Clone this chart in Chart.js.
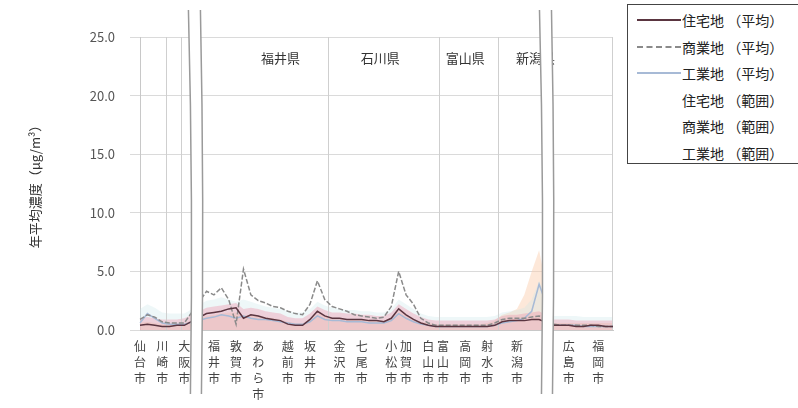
<!DOCTYPE html>
<html><head><meta charset="utf-8">
<script src="https://cdn.jsdelivr.net/npm/chart.js@4.4.0/dist/chart.umd.min.js"></script>
<style>
html,body{margin:0;padding:0;background:#fff;overflow:hidden}
#wrap{position:relative;width:798px;height:408px}
#legend{position:absolute;left:627px;top:4px;width:190px;height:158px;border:1px solid #444;border-right:none;overflow:hidden;background:#fff;font-family:"Noto Sans CJK JP";font-size:14px;color:#222}
.item{position:absolute;left:0;height:20px;width:190px;white-space:nowrap}
.sw{position:absolute;left:9px;top:9px;width:44px;height:0}
.tx{position:absolute;left:54px;top:0;line-height:20px}
</style></head>
<body>
<div id="wrap">
<canvas id="c" width="798" height="408" style="width:798px;height:408px"></canvas>
<div id="legend"></div>
</div>
<script>
const FONT = '"Noto Sans CJK JP", "Noto Sans", sans-serif';

const cityLabels = [
 '仙台市','','','川崎市','','','大阪市','','','',
 '福井市','','','敦賀市','','','あわら市','','','',
 '越前市','','','坂井市','','','','金沢市','','',
 '七尾市','','','','小松市','','加賀市','','','白山市',
 '','富山市','','','高岡市','','','射水市','','',
 '','新潟市','','','','','','','広島市','',
 '','','福岡市','',''
];

const seriesNames = ['住宅地 （平均）','商業地 （平均）','工業地 （平均）','住宅地 （範囲）','商業地 （範囲）','工業地 （範囲）'];

const avgResidential = [
 0.4,0.5,0.4,0.3,0.3,0.4,0.4,null,null,1.4,
 1.5,1.6,1.8,1.9,1.0,1.3,1.2,1.0,0.9,0.8,
 0.5,0.4,0.4,0.9,1.6,1.2,1.0,1.0,0.9,0.9,
 0.9,0.8,0.8,0.7,1.0,1.8,1.3,0.9,0.6,0.4,
 0.3,0.3,0.3,0.3,0.3,0.3,0.3,0.3,0.4,0.7,
 0.8,0.8,0.8,0.9,0.9,null,0.4,0.4,0.4,0.3,
 0.3,0.4,0.4,0.3,0.3
];
const avgCommercial = [
 0.9,1.3,1.1,0.7,0.6,0.6,0.6,null,null,3.3,
 3.0,3.6,2.6,0.5,5.2,3.0,2.5,2.3,2.0,1.9,
 1.6,1.4,1.3,2.2,4.2,2.6,2.0,1.8,1.6,1.3,
 1.2,1.1,1.0,1.1,2.0,5.0,3.0,2.2,1.0,0.6,
 0.4,0.4,0.4,0.4,0.4,0.4,0.4,0.4,0.6,0.9,
 1.0,1.0,1.0,1.1,1.2,null,0.5,0.4,0.4,0.4,
 0.4,0.4,0.3,0.3,0.3
];
const avgIndustrial = [
 0.6,1.4,1.0,0.6,0.5,0.5,0.5,null,null,1.0,
 1.1,1.3,1.2,1.0,1.2,1.0,0.9,0.9,0.8,0.7,
 0.6,0.5,0.5,0.7,1.2,0.9,0.8,0.8,0.7,0.7,
 0.7,0.6,0.6,0.6,0.8,1.4,1.0,0.7,0.5,0.4,
 0.3,0.3,0.3,0.3,0.3,0.3,0.3,0.3,0.4,0.6,
 0.7,0.8,1.0,1.6,3.9,null,0.4,0.4,0.4,0.4,
 0.3,0.3,0.3,0.3,0.3
];
const rangeResidential = [
 1.0,1.1,1.0,0.9,0.9,0.9,1.0,null,null,1.9,
 2.0,2.1,2.2,2.3,1.8,1.9,1.8,1.6,1.5,1.4,
 1.1,1.0,1.0,1.4,2.0,1.7,1.5,1.5,1.4,1.4,
 1.3,1.3,1.2,1.2,1.5,2.2,1.8,1.4,1.1,0.9,
 0.8,0.8,0.8,0.8,0.8,0.8,0.8,0.8,0.9,1.2,
 1.3,1.3,1.4,1.5,1.6,null,0.9,0.9,0.9,0.8,
 0.8,0.8,0.8,0.8,0.8
];
const rangeCommercial = [
 1.8,2.2,1.9,1.5,1.4,1.4,1.4,null,null,2.5,
 2.6,2.8,2.6,2.4,2.6,2.4,2.2,2.0,1.9,1.8,
 1.6,1.5,1.5,1.8,2.4,2.1,1.9,1.8,1.7,1.7,
 1.6,1.6,1.5,1.5,1.8,2.6,2.2,1.8,1.4,1.2,
 1.1,1.1,1.1,1.1,1.1,1.1,1.1,1.1,1.2,1.5,
 1.6,1.7,1.9,2.6,4.2,null,1.2,1.2,1.2,1.2,
 1.1,1.1,1.1,1.1,1.1
];
const rangeIndustrial = [
 0.6,0.7,0.6,0.5,0.5,0.5,0.6,null,null,1.2,
 1.3,1.4,1.5,1.5,1.2,1.3,1.2,1.1,1.0,0.9,
 0.7,0.6,0.6,0.9,1.4,1.2,1.0,1.0,0.9,0.9,
 0.9,0.9,0.8,0.8,1.0,1.6,1.2,0.9,0.7,0.6,
 0.5,0.5,0.5,0.5,0.5,0.5,0.5,0.6,0.8,1.3,
 1.5,1.8,3.0,5.0,6.8,null,0.6,0.6,0.6,0.6,
 0.6,0.6,0.6,0.6,0.6
];

const yTicksStep = 5;
const yMin = 0, yMax = 25;
const yTitle = '年平均濃度（μg/m³）';

const prefNames = ['福井県','石川県','富山県','新潟県'];
const prefPos = [19, 32.5, 44, 53.5];
const sectionBounds = [3.5, 5.5, 25.5, 40.5, 48.5];
const breakAt = [7.5, 55];

const lineColors = ['#5a3540','#8a8a8a','#a7bad6'];
const fillColors = ['rgba(238,150,172,0.40)','rgba(200,228,232,0.30)','rgba(250,205,170,0.45)'];

const decor = {
  id: 'decor',
  beforeDatasetsDraw(chart) {
    const {ctx, chartArea: a, scales: {x}} = chart;
    ctx.save();
    ctx.strokeStyle = '#cfcfcf';
    ctx.lineWidth = 1;
    sectionBounds.forEach(b => {
      const px = Math.round(x.getPixelForValue(b)) + 0.5;
      ctx.beginPath(); ctx.moveTo(px, a.top); ctx.lineTo(px, a.bottom); ctx.stroke();
    });
    ctx.beginPath(); ctx.moveTo(a.right - 0.5, a.top); ctx.lineTo(a.right - 0.5, a.bottom); ctx.stroke();
    ctx.restore();
  },
  afterDatasetsDraw(chart) {
    const {ctx, chartArea: a, scales: {x}} = chart;
    ctx.save();
    ctx.font = '13px ' + FONT;
    ctx.fillStyle = '#333';
    ctx.textAlign = 'center';
    ctx.textBaseline = 'middle';
    prefNames.forEach((n, i) => ctx.fillText(n, x.getPixelForValue(prefPos[i]), a.top + 21));
    ctx.restore();
  },
  afterDraw(chart) {
    const {ctx, scales: {x}} = chart;
    ctx.save();
    breakAt.forEach(b => {
      const cx = x.getPixelForValue(b);
      const t = 10, btm = 394, m = 200;
      ctx.beginPath();
      ctx.moveTo(cx - 7, t);
      ctx.quadraticCurveTo(cx - 2, m, cx - 5, btm);
      ctx.lineTo(cx + 6, btm);
      ctx.quadraticCurveTo(cx + 9, m, cx + 5, t);
      ctx.closePath();
      ctx.fillStyle = '#fff';
      ctx.fill();
      ctx.strokeStyle = '#9a9a9a';
      ctx.lineWidth = 1.5;
      ctx.beginPath();
      ctx.moveTo(cx - 7, t); ctx.quadraticCurveTo(cx - 2, m, cx - 5, btm);
      ctx.stroke();
      ctx.beginPath();
      ctx.moveTo(cx + 5, t); ctx.quadraticCurveTo(cx + 9, m, cx + 6, btm);
      ctx.stroke();
    });
    ctx.restore();
  }
};

Chart.defaults.font.family = FONT;

const lineSeries = [avgResidential, avgCommercial, avgIndustrial];
const rangeSeries = [rangeResidential, rangeCommercial, rangeIndustrial];
const datasets = [];
lineSeries.forEach((d, i) => datasets.push({
  label: seriesNames[i], data: d, borderColor: lineColors[i], backgroundColor: lineColors[i],
  borderWidth: 1.5, borderDash: i === 1 ? [5, 2] : [], pointRadius: 0, fill: false, spanGaps: true, tension: 0
}));
rangeSeries.forEach((d, i) => datasets.push({
  label: seriesNames[i + 3], data: d, borderWidth: 0, borderColor: 'rgba(0,0,0,0)',
  backgroundColor: fillColors[i], pointRadius: 0, fill: 'origin', spanGaps: true, tension: 0
}));

new Chart(document.getElementById('c'), {
  type: 'line',
  data: { labels: cityLabels, datasets },
  options: {
    responsive: false,
    animation: false,
    layout: { padding: { top: 37, right: 185, left: 0, bottom: 0 } },
    plugins: { legend: { display: false }, tooltip: { enabled: false }, filler: { drawTime: 'beforeDatasetsDraw' } },
    scales: {
      x: {
        type: 'category', offset: false,
        grid: { display: false, drawTicks: false },
        border: { display: true, color: '#c8c8c8' },
        ticks: {
          autoSkip: false, maxRotation: 0, minRotation: 0, padding: 8, color: '#444',
          font: { size: 12, lineHeight: 1.35 },
          callback: (v, i) => cityLabels[i] ? Array.from(cityLabels[i]) : ''
        },
        afterFit(s) { s.height = 78; }
      },
      y: {
        min: yMin, max: yMax,
        ticks: { stepSize: yTicksStep, padding: 15, color: '#555', font: { size: 13 }, callback: v => Number(v).toFixed(1) },
        grid: { color: '#dadada', tickLength: 10, drawTicks: true },
        border: { color: '#c8c8c8' },
        title: { display: true, text: yTitle, color: '#333', font: { size: 13 }, padding: { top: 27, bottom: 0 } },
        afterFit(s) { s.width = 140; }
      }
    }
  },
  plugins: [decor]
});

const lg = document.getElementById('legend');
const swStyles = ['border-top:2px solid ' + lineColors[0], 'border-top:2px dashed ' + lineColors[1], 'border-top:2px solid ' + lineColors[2], '', '', ''];
seriesNames.forEach((n, i) => {
  const it = document.createElement('div');
  it.className = 'item';
  it.style.top = (5 + i * 26.6) + 'px';
  it.innerHTML = '<div class="sw" style="' + swStyles[i] + '"></div><div class="tx"></div>';
  it.querySelector('.tx').textContent = n;
  lg.appendChild(it);
});
</script>
</body></html>
